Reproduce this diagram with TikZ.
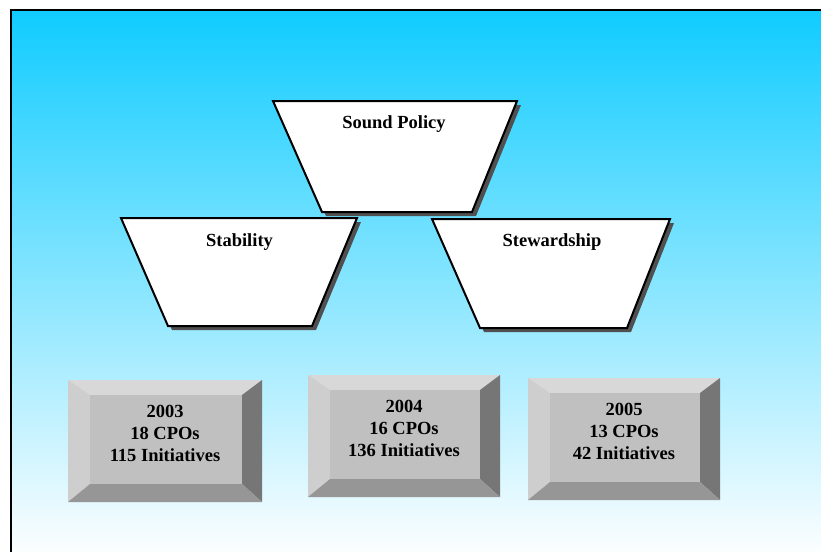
\documentclass[tikz,border=0pt]{standalone}
\usepackage{fontspec}
\setmainfont{Liberation Serif}
\definecolor{skytop}{RGB}{16,204,255}
\definecolor{skymid}{RGB}{150,222,255}
\definecolor{skybottom}{RGB}{252,254,255}
\definecolor{bevtopc}{RGB}{216,216,216}
\definecolor{bevleftc}{RGB}{206,206,206}
\definecolor{facec}{RGB}{192,192,192}
\definecolor{bevrightc}{RGB}{118,118,118}
\definecolor{bevbottomc}{RGB}{150,150,150}
\definecolor{shadowc}{RGB}{80,80,80}
\begin{document}
\begin{tikzpicture}[x=1pt,y=-1pt,
  labeltext/.style={font=\bfseries\fontsize{18.5}{22}\selectfont, inner sep=0pt},
  boxtext/.style={labeltext, align=center},
  panel/.style={fill=white, draw=black, line width=2pt, line join=miter},
  panelshadow/.style={fill=shadowc},
  frame/.style={draw=black, line width=2.5pt}]
\useasboundingbox (0,0) rectangle (821,551);

% background frame with vertical gradient
\shade[top color=skytop, middle color=skymid, bottom color=skybottom] (11,10) rectangle (826,552);
\draw[frame] (11,10) rectangle (826,560);

% inverted trapezium panels: shadow first, then panel, then label
\foreach \name/\tl/\tr/\ty/\bl/\br/\by/\lx/\ly/\txt in {
    policy/273/517/101/322/472/212/394/128/Sound Policy,
    stability/121/357/218/168/312/326/239.5/246/Stability,
    steward/432/670/219/480/627/328/552/246/Stewardship} {
  \fill[panelshadow] (\tl+4,\ty+4) -- (\tr+4,\ty+4) -- (\br+4,\by+4) -- (\bl+4,\by+4) -- cycle;
  \draw[panel] (\tl,\ty) -- (\tr,\ty) -- (\br,\by) -- (\bl,\by) -- cycle;
  \node[labeltext, anchor=base] (\name) at (\lx,\ly) {\txt};
}

% bevelled year boxes
\foreach \name/\xa/\ya/\xb/\yb/\cy/\txt in {
    y2003/68/380/262/502/433/{2003\\18 CPOs\\115 Initiatives},
    y2004/308/375/500/497/428/{2004\\16 CPOs\\136 Initiatives},
    y2005/528/378/720/500/431/{2005\\13 CPOs\\42 Initiatives}} {
  \fill[bevtopc] (\xa,\ya) -- (\xb,\ya) -- (\xb-20,\ya+15) -- (\xa+22,\ya+15) -- cycle;
  \fill[bevleftc] (\xa,\ya) -- (\xa+22,\ya+15) -- (\xa+22,\yb-18) -- (\xa,\yb) -- cycle;
  \fill[bevrightc] (\xb,\ya) -- (\xb,\yb) -- (\xb-20,\yb-18) -- (\xb-20,\ya+15) -- cycle;
  \fill[bevbottomc] (\xa,\yb) -- (\xa+22,\yb-18) -- (\xb-20,\yb-18) -- (\xb,\yb) -- cycle;
  \fill[facec] (\xa+22,\ya+15) rectangle (\xb-20,\yb-18);
  \node[boxtext] (\name) at ({(\xa+\xb)/2},\cy) {\txt};
}
\end{tikzpicture}
\end{document}
